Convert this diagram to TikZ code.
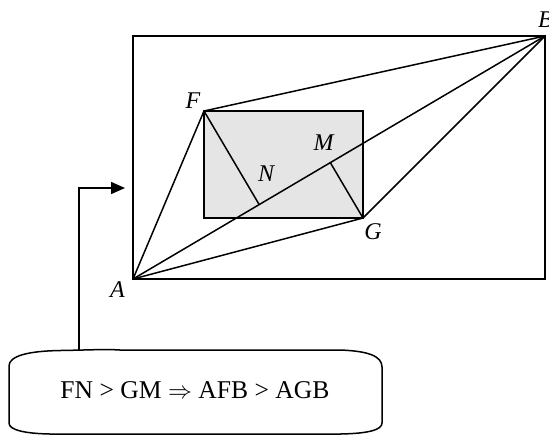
\documentclass[tikz,border=0pt]{standalone}
\usepackage{fontspec}
\setmainfont{Liberation Serif}
\usetikzlibrary{calc,arrows.meta}
\begin{document}
\begin{tikzpicture}[x=0.5pt,y=-0.5pt,
  ln/.style={line width=0.75pt},
  lbl/.style={font=\fontsize{12}{14}\selectfont\itshape, inner sep=0pt},
  eqtext/.style={font=\fontsize{12.8}{15}\selectfont, inner sep=0pt},
  shade/.style={ln, fill=gray!20}]
\useasboundingbox (0,0) rectangle (549,435);
% points
\coordinate (A) at (133,279);
\coordinate (B) at (545,36);
\coordinate (F) at (204,111);
\coordinate (G) at (363,218);
\coordinate (N) at ($(A)!(F)!(B)$);
\coordinate (M) at ($(A)!(G)!(B)$);
% shapes
\draw[shade] (F) rectangle (G);
\draw[ln] (A) rectangle (B);
\draw[ln, line join=round] (A) -- (F) -- (B) -- (G) -- cycle;
\draw[ln] (A) -- (B);
\draw[ln] (F) -- (N);
\draw[ln] (G) -- (M);
% labels
\node[lbl] (lA) at (117.5,290) {A};
\node[lbl] (lB) at (545.5,20) {B};
\node[lbl] (lF) at (193,101) {F};
\node[lbl] (lG) at (373,232) {G};
\node[lbl] (lM) at (323.5,143) {M};
\node[lbl] (lN) at (266,174) {N};
% callout
\draw[ln] (9,366) .. controls (9,356) and (28,351) .. (60,350.5)
  .. controls (90,350) and (105,349) .. (120,350)
  -- (340,350) .. controls (368,351) and (382,356) .. (382,367)
  -- (382,423) .. controls (382,430) and (368,433.5) .. (340,434)
  -- (50,434) .. controls (25,433.5) and (9,430) .. (9,423) -- cycle;
\node[eqtext] (eq) at (195,390) {FN > GM $\Rightarrow$ AFB > AGB};
\coordinate (ctop) at (79,350);
\coordinate (atip) at (125,188);
\draw[ln, -{Triangle[length=7pt,width=6pt]}] (ctop) |- (atip);
\end{tikzpicture}
\end{document}
